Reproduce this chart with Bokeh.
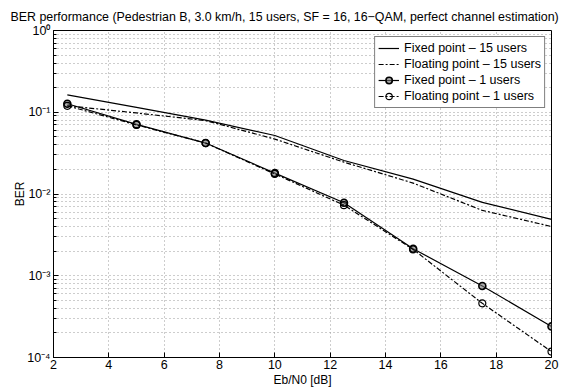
from bokeh.plotting import figure
from bokeh.models import (Range1d, FixedTicker, Legend, LegendItem, Title)
from bokeh.embed import file_html
from bokeh.resources import INLINE

# ---- data ----
ebn0 = [2.5, 5, 7.5, 10, 12.5, 15, 17.5, 20]
fixed_15 = [0.163, 0.115, 0.080, 0.052, 0.0257, 0.0152, 0.0079, 0.0049]
float_15 = [0.120, 0.098, 0.079, 0.047, 0.0245, 0.0136, 0.0063, 0.0040]
fixed_1 = [0.127, 0.071, 0.042, 0.018, 0.0078, 0.00214, 0.00075, 0.00024]
float_1 = [0.120, 0.070, 0.042, 0.0176, 0.0073, 0.0021, 0.00046, 0.000118]

x_ticks = [2, 4, 6, 8, 10, 12, 14, 16, 18, 20]
y_exps = [-4, -3, -2, -1, 0]
y_tick_labels = ["10⁻⁴", "10⁻³", "10⁻²", "10⁻¹", "10⁰"]

title_text = "BER performance (Pedestrian B, 3.0 km/h, 15 users, SF = 16, 16\u2212QAM, perfect channel estimation)"
x_label = "Eb/N0 [dB]"
y_label = "BER"
labels = ["Fixed point \u2013 15 users", "Floating point \u2013 15 users",
          "Fixed point \u2013 1 users", "Floating point \u2013 1 users"]

FONT = "Liberation Sans"

y_ticks = [10.0 ** e for e in y_exps]
y_minor = [m * 10.0 ** e for e in y_exps[:-1] for m in range(2, 10)]

p = figure(width=562, height=389, y_axis_type="log",
           x_range=Range1d(2, 20), y_range=Range1d(1e-4, 1),
           output_backend="svg", toolbar_location=None,
           min_border_left=53, min_border_right=11, min_border_top=30, min_border_bottom=32)

p.title = Title(text=title_text, align="left", offset=-43,
                text_font=FONT, text_font_size="12.4px", text_font_style="normal",
                text_color="black", standoff=14)

p.outline_line_color = "black"
p.outline_line_width = 1
p.background_fill_color = "white"
p.border_fill_color = "white"

# axes
p.xaxis.ticker = FixedTicker(ticks=x_ticks)
p.yaxis.ticker = FixedTicker(ticks=y_ticks, minor_ticks=y_minor)
p.yaxis.major_label_overrides = {t: lab for t, lab in zip(y_ticks, y_tick_labels)}

for ax in (p.xaxis, p.yaxis):
    ax.axis_line_color = "black"
    ax.major_tick_in = 5
    ax.major_tick_out = 0
    ax.minor_tick_in = 3
    ax.minor_tick_out = 0
    ax.major_tick_line_color = "black"
    ax.minor_tick_line_color = "black"
    ax.major_label_text_font = FONT
    ax.major_label_text_font_size = "12.5px"
    ax.major_label_text_color = "black"
    ax.axis_label_text_font = FONT
    ax.axis_label_text_font_size = "12px"
    ax.axis_label_text_font_style = "normal"
    ax.axis_label_text_color = "black"
p.xaxis.minor_tick_line_color = None
p.xaxis.axis_label = x_label
p.yaxis.axis_label = y_label
p.xaxis.major_label_standoff = 2
p.xaxis.axis_label_standoff = 1
p.yaxis.major_label_standoff = 3
p.yaxis.axis_label_standoff = -3

# grids
p.xgrid.grid_line_color = "#9a9a9a"
p.xgrid.grid_line_dash = "1 3"
p.ygrid.grid_line_color = "#9a9a9a"
p.ygrid.grid_line_dash = "1 3"
p.ygrid.minor_grid_line_color = "#9a9a9a"
p.ygrid.minor_grid_line_dash = "1 3"

LW = 1.2
DASHDOT = "5 2 2 2"

r1 = p.line(ebn0, fixed_15, line_color="black", line_width=LW)
r2 = p.line(ebn0, float_15, line_color="black", line_width=LW, line_dash=DASHDOT)
r3 = p.line(ebn0, fixed_1, line_color="black", line_width=LW)
r3m = p.scatter(ebn0, fixed_1, marker="circle", size=7, line_color="black",
                line_width=1.6, fill_color="#777777", fill_alpha=0.6)
r4 = p.line(ebn0, float_1, line_color="black", line_width=LW, line_dash=DASHDOT)
r4m = p.scatter(ebn0, float_1, marker="circle", size=7, line_color="black",
                line_width=1.2, fill_color="white", fill_alpha=0.0)

legend = Legend(items=[
    LegendItem(label=labels[0], renderers=[r1]),
    LegendItem(label=labels[1], renderers=[r2]),
    LegendItem(label=labels[2], renderers=[r3, r3m]),
    LegendItem(label=labels[3], renderers=[r4, r4m]),
], location="top_right")
legend.label_text_font = FONT
legend.label_text_font_size = "12.5px"
legend.label_text_color = "black"
legend.border_line_color = "black"
legend.border_line_width = 1
legend.background_fill_alpha = 1.0
legend.margin = 6
legend.padding = 3
legend.spacing = 0
legend.label_height = 16
legend.glyph_height = 16
legend.glyph_width = 21
legend.label_standoff = 5
p.add_layout(legend)

open("out.html", "w").write(file_html(p, INLINE))
